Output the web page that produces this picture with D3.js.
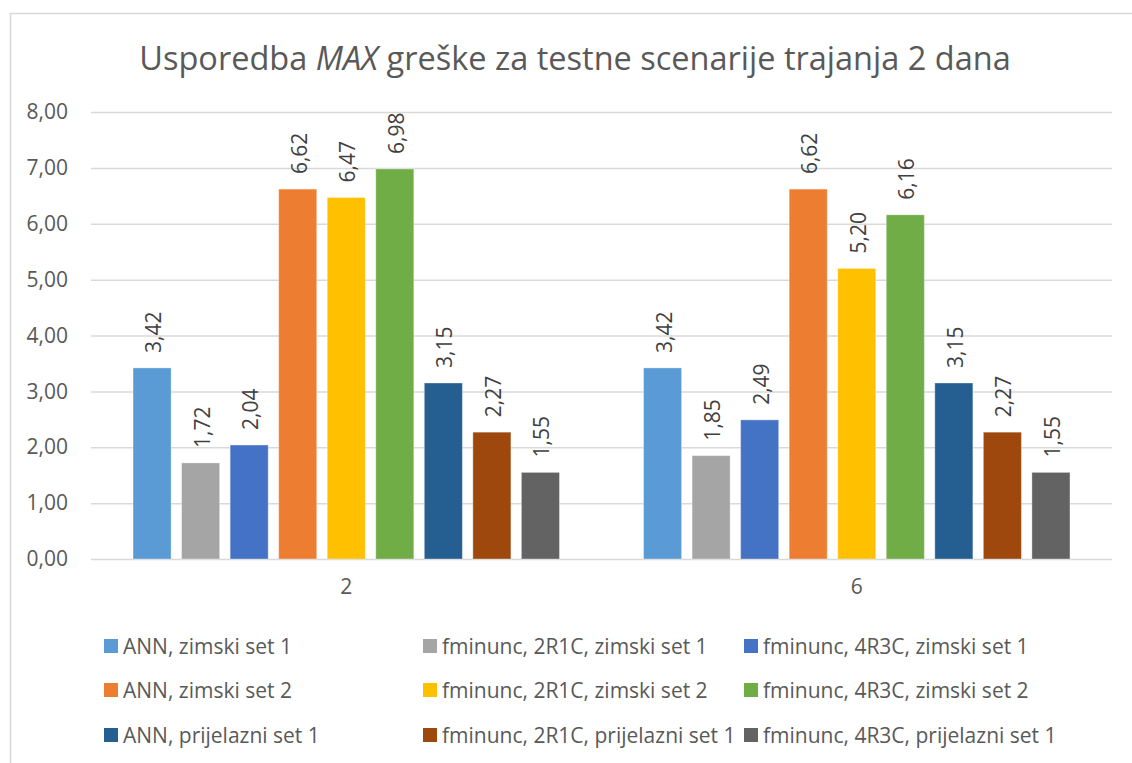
<!DOCTYPE html>
<html>
<head>
<meta charset="utf-8">
<script src="https://cdn.jsdelivr.net/npm/d3@7/dist/d3.min.js"></script>
<style>
  html, body { margin: 0; padding: 0; background: #ffffff; }
  svg { display: block; font-family: "Open Sans", "DejaVu Sans", sans-serif; }
</style>
</head>
<body>
<svg id="chart" width="1132" height="763"></svg>
<script>
// Category axis (test scenario) and the nine error series
const categories = ["2", "6"];
const seriesNames = [
  "ANN, zimski set 1",
  "fminunc, 2R1C, zimski set 1",
  "fminunc, 4R3C, zimski set 1",
  "ANN, zimski set 2",
  "fminunc, 2R1C, zimski set 2",
  "fminunc, 4R3C, zimski set 2",
  "ANN, prijelazni set 1",
  "fminunc, 2R1C, prijelazni set 1",
  "fminunc, 4R3C, prijelazni set 1"
];
// MAX error per series, one array per category
const valuesCat2 = [3.42, 1.72, 2.04, 6.62, 6.47, 6.98, 3.15, 2.27, 1.55];
const valuesCat6 = [3.42, 1.85, 2.49, 6.62, 5.20, 6.16, 3.15, 2.27, 1.55];
const yTicks = [0, 1, 2, 3, 4, 5, 6, 7, 8];

const palette = ["#5B9BD5", "#A5A5A5", "#4472C4", "#ED7D31", "#FFC000",
                 "#70AD47", "#255E91", "#9E480E", "#636363"];

const valuesByCategory = { "2": valuesCat2, "6": valuesCat6 };

const locale = d3.formatLocale({ decimal: ",", thousands: ".", grouping: [3], currency: ["", " €"] });
const fmt = locale.format(".2f");

const svg = d3.select("#chart");
const textColor = "#595959";
const gridColor = "#d9d9d9";

// chart frame
svg.append("rect")
  .attr("x", 10.5).attr("y", 13.5)
  .attr("width", 1200).attr("height", 800)
  .attr("fill", "none").attr("stroke", gridColor).attr("stroke-width", 1.5);

const plot = { left: 91, right: 1112, top: 112, bottom: 559 };

const y = d3.scaleLinear().domain([0, 8]).range([plot.bottom, plot.top]);
const x0 = d3.scaleBand().domain(categories).range([plot.left, plot.right]);
const x1 = d3.scaleBand().domain(d3.range(seriesNames.length))
  .range([0, x0.bandwidth()]).paddingInner(0.216).paddingOuter(0.866);
const color = d3.scaleOrdinal().domain(d3.range(seriesNames.length)).range(palette);

// title
const title = svg.append("text")
  .attr("x", 575).attr("y", 70)
  .attr("text-anchor", "middle")
  .attr("font-size", 32.5)
  .attr("fill", textColor);
title.append("tspan").text("Usporedba ");
title.append("tspan").attr("font-style", "italic").text("MAX");
title.append("tspan").text(" greške za testne scenarije trajanja 2 dana");

// y axis with gridlines
const yAxis = svg.append("g")
  .attr("transform", `translate(${plot.left},0)`)
  .call(d3.axisLeft(y).tickValues(yTicks).tickFormat(fmt)
    .tickSize(-(plot.right - plot.left)).tickPadding(23));
yAxis.select(".domain").remove();
yAxis.selectAll(".tick line").attr("stroke", gridColor).attr("stroke-width", 1.5);
yAxis.selectAll(".tick text").attr("fill", textColor).attr("font-size", 21)
  .attr("font-family", "'Open Sans', sans-serif");

// category axis labels
const xAxis = svg.append("g")
  .attr("transform", `translate(0,${plot.bottom})`)
  .call(d3.axisBottom(x0).tickSize(0).tickPadding(20));
xAxis.select(".domain").remove();
xAxis.selectAll(".tick text").attr("fill", textColor).attr("font-size", 21)
  .attr("font-family", "'Open Sans', sans-serif");

// bars
const groups = svg.append("g").selectAll("g")
  .data(categories).join("g")
  .attr("transform", d => `translate(${x0(d)},0)`);

const barData = c => valuesByCategory[c].map((v, i) => ({ i, v }));

groups.selectAll("rect")
  .data(barData).join("rect")
  .attr("x", d => x1(d.i))
  .attr("y", d => y(d.v))
  .attr("width", x1.bandwidth())
  .attr("height", d => y(0) - y(d.v))
  .attr("fill", d => color(d.i))
  .attr("stroke", "#ffffff").attr("stroke-opacity", 0.35).attr("stroke-width", 1);

// rotated value labels
groups.selectAll("text.val")
  .data(barData).join("text")
  .attr("class", "val")
  .attr("transform", d => `translate(${x1(d.i) + x1.bandwidth() / 2 + 1},${y(d.v) - 15}) rotate(-90)`)
  .attr("text-anchor", "start")
  .attr("dominant-baseline", "central")
  .attr("font-size", 21)
  .attr("fill", "#404040")
  .text(d => fmt(d.v));

// legend: three columns, three rows
const legendCols = [104, 423, 744];
const legendRows = [646, 690, 735];
const legend = svg.append("g").selectAll("g")
  .data(seriesNames).join("g")
  .attr("transform", (d, i) => `translate(${legendCols[i % 3]},${legendRows[Math.floor(i / 3)]})`);
legend.append("rect")
  .attr("x", 0).attr("y", -7).attr("width", 14).attr("height", 14)
  .attr("fill", (d, i) => color(i));
legend.append("text")
  .attr("x", 19).attr("y", 0)
  .attr("dominant-baseline", "central")
  .attr("font-size", 21)
  .attr("fill", textColor)
  .text(d => d);
</script>
</body>
</html>
